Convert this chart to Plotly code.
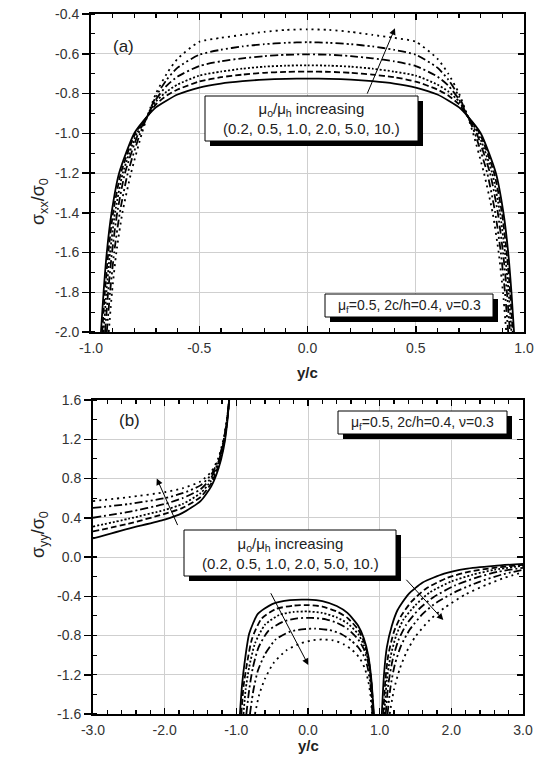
import plotly.graph_objects as go

W, H = 538, 767


def px(x):
    return x / W


def py(y):
    return 1 - y / H


# ---------------- data: panel (a) sigma_xx / sigma_0 vs y/c ----------------
mu_ratio = ["0.2", "0.5", "1.0", "2.0", "5.0", "10."]

a_x_02 = [-0.954, -0.942, -0.927, -0.905, -0.87, -0.80, -0.74, -0.7, -0.65, -0.6, -0.5, -0.4, -0.3, -0.2, -0.1, 0.0,
          0.1, 0.2, 0.3, 0.4, 0.5, 0.6, 0.65, 0.7, 0.74, 0.80, 0.87, 0.905, 0.927, 0.942, 0.954]
a_y_02 = [-2.0, -1.8, -1.6, -1.4, -1.2, -1.0, -0.915, -0.87, -0.835, -0.805, -0.77, -0.75, -0.738, -0.73, -0.726, -0.725,
          -0.726, -0.73, -0.738, -0.75, -0.77, -0.805, -0.835, -0.87, -0.915, -1.0, -1.2, -1.4, -1.6, -1.8, -2.0]

a_x_05 = [-0.948, -0.936, -0.92, -0.898, -0.862, -0.795, -0.74, -0.7, -0.65, -0.6, -0.5, -0.4, -0.3, -0.2, -0.1, 0.0,
          0.1, 0.2, 0.3, 0.4, 0.5, 0.6, 0.65, 0.7, 0.74, 0.795, 0.862, 0.898, 0.92, 0.936, 0.948]
a_y_05 = [-2.0, -1.8, -1.6, -1.4, -1.2, -1.0, -0.915, -0.855, -0.81, -0.78, -0.74, -0.718, -0.705, -0.696, -0.691, -0.69,
          -0.691, -0.696, -0.705, -0.718, -0.74, -0.78, -0.81, -0.855, -0.915, -1.0, -1.2, -1.4, -1.6, -1.8, -2.0]

a_x_10 = [-0.942, -0.929, -0.912, -0.889, -0.853, -0.788, -0.74, -0.7, -0.65, -0.6, -0.5, -0.4, -0.3, -0.2, -0.1, 0.0,
          0.1, 0.2, 0.3, 0.4, 0.5, 0.6, 0.65, 0.7, 0.74, 0.788, 0.853, 0.889, 0.912, 0.929, 0.942]
a_y_10 = [-2.0, -1.8, -1.6, -1.4, -1.2, -1.0, -0.915, -0.84, -0.79, -0.755, -0.71, -0.69, -0.675, -0.665, -0.66, -0.658,
          -0.66, -0.665, -0.675, -0.69, -0.71, -0.755, -0.79, -0.84, -0.915, -1.0, -1.2, -1.4, -1.6, -1.8, -2.0]

a_x_20 = [-0.935, -0.921, -0.903, -0.879, -0.843, -0.781, -0.74, -0.7, -0.65, -0.6, -0.5, -0.4, -0.3, -0.2, -0.1, 0.0,
          0.1, 0.2, 0.3, 0.4, 0.5, 0.6, 0.65, 0.7, 0.74, 0.781, 0.843, 0.879, 0.903, 0.921, 0.935]
a_y_20 = [-2.0, -1.8, -1.6, -1.4, -1.2, -1.0, -0.915, -0.83, -0.76, -0.715, -0.662, -0.638, -0.623, -0.612, -0.605, -0.603,
          -0.605, -0.612, -0.623, -0.638, -0.662, -0.715, -0.76, -0.83, -0.915, -1.0, -1.2, -1.4, -1.6, -1.8, -2.0]

a_x_50 = [-0.927, -0.912, -0.893, -0.867, -0.83, -0.773, -0.74, -0.7, -0.65, -0.6, -0.5, -0.4, -0.3, -0.2, -0.1, 0.0,
          0.1, 0.2, 0.3, 0.4, 0.5, 0.6, 0.65, 0.7, 0.74, 0.773, 0.83, 0.867, 0.893, 0.912, 0.927]
a_y_50 = [-2.0, -1.8, -1.6, -1.4, -1.2, -1.0, -0.915, -0.815, -0.73, -0.67, -0.605, -0.58, -0.563, -0.552, -0.545, -0.542,
          -0.545, -0.552, -0.563, -0.58, -0.605, -0.67, -0.73, -0.815, -0.915, -1.0, -1.2, -1.4, -1.6, -1.8, -2.0]

a_x_100 = [-0.918, -0.903, -0.883, -0.855, -0.815, -0.765, -0.74, -0.7, -0.65, -0.6, -0.5, -0.4, -0.3, -0.2, -0.1, 0.0,
           0.1, 0.2, 0.3, 0.4, 0.5, 0.6, 0.65, 0.7, 0.74, 0.765, 0.815, 0.855, 0.883, 0.903, 0.918]
a_y_100 = [-2.0, -1.8, -1.6, -1.4, -1.2, -1.0, -0.915, -0.80, -0.70, -0.625, -0.54, -0.52, -0.505, -0.49, -0.48, -0.477,
           -0.48, -0.49, -0.505, -0.52, -0.54, -0.625, -0.70, -0.80, -0.915, -1.0, -1.2, -1.4, -1.6, -1.8, -2.0]

# ---------------- data: panel (b) sigma_yy / sigma_0 vs y/c ----------------
# three branches per curve separated by None
b_x_02 = [-3.0, -2.5, -2.0, -1.75, -1.5, -1.35, -1.25, -1.18, -1.13, -1.1, None,
          -0.95, -0.92, -0.88, -0.82, -0.7, -0.5, -0.25, 0.0, 0.2, 0.4, 0.55, 0.7, 0.78, 0.84, 0.88, 0.92, None,
          1.03, 1.06, 1.1, 1.17, 1.25, 1.4, 1.6, 1.9, 2.2, 2.6, 3.0]
b_y_02 = [0.19, 0.29, 0.38, 0.45, 0.57, 0.72, 0.9, 1.1, 1.35, 1.6, None,
          -1.6, -1.3, -1.05, -0.78, -0.58, -0.48, -0.44, -0.435, -0.45, -0.5, -0.57, -0.7, -0.83, -1.0, -1.22, -1.6, None,
          -1.6, -1.2, -0.92, -0.7, -0.54, -0.38, -0.26, -0.17, -0.12, -0.09, -0.07]

b_x_05 = [-3.0, -2.5, -2.0, -1.75, -1.5, -1.35, -1.25, -1.18, -1.13, -1.1, None,
          -0.93, -0.9, -0.85, -0.78, -0.65, -0.45, -0.2, 0.0, 0.2, 0.4, 0.55, 0.7, 0.78, 0.84, 0.88, 0.915, None,
          1.05, 1.08, 1.12, 1.2, 1.3, 1.45, 1.65, 1.95, 2.25, 2.6, 3.0]
b_y_05 = [0.26, 0.34, 0.44, 0.50, 0.61, 0.75, 0.93, 1.12, 1.37, 1.6, None,
          -1.6, -1.32, -1.08, -0.83, -0.63, -0.53, -0.495, -0.49, -0.505, -0.555, -0.62, -0.74, -0.86, -1.02, -1.24, -1.6, None,
          -1.6, -1.25, -1.0, -0.76, -0.6, -0.45, -0.32, -0.21, -0.15, -0.11, -0.08]

b_x_10 = [-3.0, -2.5, -2.0, -1.75, -1.5, -1.35, -1.25, -1.18, -1.13, -1.1, None,
          -0.9, -0.87, -0.82, -0.74, -0.6, -0.4, -0.2, 0.0, 0.2, 0.4, 0.55, 0.7, 0.78, 0.84, 0.88, 0.91, None,
          1.065, 1.1, 1.15, 1.23, 1.33, 1.5, 1.7, 2.0, 2.3, 2.6, 3.0]
b_y_10 = [0.31, 0.39, 0.48, 0.54, 0.65, 0.78, 0.95, 1.14, 1.38, 1.6, None,
          -1.6, -1.35, -1.12, -0.88, -0.69, -0.59, -0.56, -0.555, -0.57, -0.615, -0.675, -0.785, -0.9, -1.05, -1.26, -1.6, None,
          -1.6, -1.25, -1.02, -0.8, -0.64, -0.49, -0.36, -0.25, -0.18, -0.13, -0.09]

b_x_20 = [-3.0, -2.5, -2.0, -1.75, -1.5, -1.35, -1.25, -1.18, -1.13, -1.1, None,
          -0.86, -0.82, -0.77, -0.69, -0.55, -0.35, -0.15, 0.05, 0.25, 0.4, 0.55, 0.7, 0.78, 0.84, 0.88, 0.905, None,
          1.085, 1.12, 1.18, 1.26, 1.37, 1.55, 1.75, 2.05, 2.35, 2.65, 3.0]
b_y_20 = [0.40, 0.46, 0.54, 0.60, 0.69, 0.81, 0.97, 1.16, 1.39, 1.6, None,
          -1.6, -1.35, -1.13, -0.92, -0.75, -0.66, -0.625, -0.62, -0.635, -0.67, -0.73, -0.84, -0.94, -1.08, -1.28, -1.6, None,
          -1.6, -1.3, -1.05, -0.85, -0.69, -0.53, -0.41, -0.29, -0.21, -0.15, -0.11]

b_x_50 = [-3.0, -2.5, -2.0, -1.75, -1.5, -1.35, -1.25, -1.18, -1.13, -1.1, None,
          -0.81, -0.76, -0.7, -0.6, -0.45, -0.25, -0.05, 0.1, 0.3, 0.45, 0.6, 0.7, 0.78, 0.83, 0.87, 0.9, None,
          1.11, 1.15, 1.21, 1.3, 1.42, 1.6, 1.8, 2.1, 2.4, 2.7, 3.0]
b_y_50 = [0.50, 0.54, 0.60, 0.65, 0.73, 0.84, 0.99, 1.18, 1.40, 1.6, None,
          -1.6, -1.35, -1.16, -0.99, -0.84, -0.76, -0.735, -0.73, -0.745, -0.78, -0.85, -0.92, -1.01, -1.12, -1.3, -1.6, None,
          -1.6, -1.33, -1.1, -0.9, -0.74, -0.58, -0.46, -0.34, -0.25, -0.18, -0.13]

b_x_100 = [-3.0, -2.5, -2.0, -1.75, -1.5, -1.35, -1.25, -1.18, -1.13, -1.1, None,
           -0.74, -0.68, -0.6, -0.48, -0.3, -0.1, 0.05, 0.2, 0.35, 0.5, 0.62, 0.72, 0.79, 0.84, 0.87, 0.895, None,
           1.14, 1.2, 1.28, 1.38, 1.5, 1.7, 1.9, 2.2, 2.5, 2.75, 3.0]
b_y_100 = [0.57, 0.61, 0.66, 0.70, 0.77, 0.87, 1.01, 1.2, 1.41, 1.6, None,
           -1.6, -1.4, -1.24, -1.08, -0.95, -0.88, -0.85, -0.84, -0.85, -0.89, -0.95, -1.03, -1.13, -1.26, -1.4, -1.6, None,
           -1.6, -1.35, -1.14, -0.96, -0.81, -0.64, -0.52, -0.38, -0.28, -0.21, -0.155]

# ---------------- tick labels ----------------
a_xtick_vals = [-1.0, -0.5, 0.0, 0.5, 1.0]
a_xtick_text = ["-1.0", "-0.5", "0.0", "0.5", "1.0"]
a_ytick_vals = [-2.0, -1.8, -1.6, -1.4, -1.2, -1.0, -0.8, -0.6, -0.4]
a_ytick_text = ["-2.0", "-1.8", "-1.6", "-1.4", "-1.2", "-1.0", "-0.8", "-0.6", "-0.4"]
b_xtick_vals = [-3.0, -2.0, -1.0, 0.0, 1.0, 2.0, 3.0]
b_xtick_text = ["-3.0", "-2.0", "-1.0", "0.0", "1.0", "2.0", "3.0"]
b_ytick_vals = [-1.6, -1.2, -0.8, -0.4, 0.0, 0.4, 0.8, 1.2, 1.6]
b_ytick_text = ["-1.6", "-1.2", "-0.8", "-0.4", "0.0", "0.4", "0.8", "1.2", "1.6"]

# ---------------- styles ----------------
dashes = ["solid", "6px,3px", "2px,2px", "8px,3px,2px,3px", "8px,3px,2px,3px,2px,3px", "2px,4px"]
a_series = [(a_x_02, a_y_02), (a_x_05, a_y_05), (a_x_10, a_y_10), (a_x_20, a_y_20), (a_x_50, a_y_50), (a_x_100, a_y_100)]
b_series = [(b_x_02, b_y_02), (b_x_05, b_y_05), (b_x_10, b_y_10), (b_x_20, b_y_20), (b_x_50, b_y_50), (b_x_100, b_y_100)]

FONT = "Arial, Liberation Sans, sans-serif"

fig = go.Figure()
for (xs, ys), d, name in zip(a_series, dashes, mu_ratio):
    fig.add_trace(go.Scatter(x=xs, y=ys, mode="lines", name=name, xaxis="x", yaxis="y",
                             line=dict(color="black", width=1.8, dash=d, shape="spline", smoothing=0.6),
                             hoverinfo="skip"))
for (xs, ys), d, name in zip(b_series, dashes, mu_ratio):
    fig.add_trace(go.Scatter(x=xs, y=ys, mode="lines", name=name, xaxis="x2", yaxis="y2",
                             line=dict(color="black", width=1.8, dash=d, shape="spline", smoothing=0.6),
                             connectgaps=False, hoverinfo="skip"))
# empty traces to register the right-hand overlay axes
fig.add_trace(go.Scatter(x=[], y=[], xaxis="x", yaxis="y3", showlegend=False))
fig.add_trace(go.Scatter(x=[], y=[], xaxis="x2", yaxis="y4", showlegend=False))

tickfont = dict(family=FONT, size=14, color="#333333")


def xax(domain, anchor, rng, vals, text, minor_dt):
    return dict(domain=domain, anchor=anchor, range=rng, tickmode="array", tickvals=vals, ticktext=text,
                ticks="inside", ticklen=6, tickwidth=1.5, tickcolor="black", mirror="ticks",
                showline=True, linecolor="black", linewidth=2, showgrid=True, gridcolor="#cfcfcf", gridwidth=1,
                zeroline=False, tickfont=tickfont, ticklabelstandoff=2, automargin=False,
                minor=dict(tickmode="linear", tick0=0, dtick=minor_dt, ticks="inside", ticklen=4,
                           tickwidth=1.2, tickcolor="black", showgrid=False))


def yax(domain, anchor, rng, vals, text, minor_dt):
    return dict(domain=domain, anchor=anchor, range=rng, tickmode="array", tickvals=vals, ticktext=text,
                ticks="outside", ticklen=7, tickwidth=1.5, tickcolor="black", mirror=False,
                showline=True, linecolor="black", linewidth=2, showgrid=True, gridcolor="#cfcfcf", gridwidth=1,
                zeroline=False, tickfont=tickfont, ticklabelstandoff=0, automargin=False,
                minor=dict(tickmode="linear", tick0=0, dtick=minor_dt, ticks="inside", ticklen=4,
                           tickwidth=1.2, tickcolor="black", showgrid=False))


def yright(overlay, anchor, rng, vals, minor_dt):
    return dict(overlaying=overlay, side="right", anchor=anchor, range=rng, tickmode="array", tickvals=vals,
                showticklabels=False, ticks="inside", ticklen=6, tickwidth=1.5, tickcolor="black",
                showline=True, linecolor="black", linewidth=2, showgrid=False, zeroline=False, automargin=False,
                minor=dict(tickmode="linear", tick0=0, dtick=minor_dt, ticks="inside", ticklen=4,
                           tickwidth=1.2, tickcolor="black", showgrid=False))


fig.update_layout(
    width=W, height=H, margin=dict(l=0, r=0, t=0, b=0, autoexpand=False), showlegend=False,
    paper_bgcolor="white", plot_bgcolor="white",
    xaxis=xax([px(91), px(524)], "y", [-1, 1], a_xtick_vals, a_xtick_text, 0.1),
    yaxis=yax([py(332), py(14)], "x", [-2.0, -0.4], a_ytick_vals, a_ytick_text, 0.1),
    yaxis3=yright("y", "x", [-2.0, -0.4], a_ytick_vals, 0.1),
    xaxis2=xax([px(93), px(523)], "y2", [-3, 3], b_xtick_vals, b_xtick_text, 0.2),
    yaxis2=yax([py(714), py(400)], "x2", [-1.6, 1.6], b_ytick_vals, b_ytick_text, 0.2),
    yaxis4=yright("y2", "x2", [-1.6, 1.6], b_ytick_vals, 0.2),
)

shapes = []
annotations = []


def boxed(x0, y0, x1, y1, text, size):
    # black drop shadow then white framed box (pixel coordinates)
    shapes.append(dict(type="rect", xref="paper", yref="paper", x0=px(x0 + 5), x1=px(x1 + 5),
                       y0=py(y0 + 5), y1=py(y1 + 5), fillcolor="black", line=dict(width=0), layer="above"))
    shapes.append(dict(type="rect", xref="paper", yref="paper", x0=px(x0), x1=px(x1),
                       y0=py(y0), y1=py(y1), fillcolor="white", line=dict(color="black", width=1), layer="above"))
    annotations.append(dict(xref="paper", yref="paper", x=px((x0 + x1) / 2), y=py((y0 + y1) / 2),
                            text=text, showarrow=False, xanchor="center", yanchor="middle", align="center",
                            font=dict(family=FONT, size=size, color="#222222")))


boxed(205, 96, 418, 141, "μ<sub>o</sub>/μ<sub>h</sub> increasing<br>(0.2, 0.5, 1.0, 2.0, 5.0, 10.)", 15)
boxed(325, 294, 493, 317, "μ<sub>f</sub>=0.5, 2c/h=0.4, ν=0.3", 14)
boxed(338, 411, 507, 434, "μ<sub>f</sub>=0.5, 2c/h=0.4, ν=0.3", 14)
boxed(184, 530, 396, 576, "μ<sub>o</sub>/μ<sub>h</sub> increasing<br>(0.2, 0.5, 1.0, 2.0, 5.0, 10.)", 15)

# arrows (tail -> head) in data coordinates
arrows = [("x", "y", 0.273, -0.808, 0.404, -0.472),
          ("x2", "y2", -1.81, 0.31, -2.11, 0.80),
          ("x2", "y2", -0.53, -0.354, 0.004, -1.10),
          ("x2", "y2", 1.353, -0.217, 1.888, -0.642)]
for xr, yr, ax, ay, hx, hy in arrows:
    annotations.append(dict(xref=xr, yref=yr, axref=xr, ayref=yr, x=hx, y=hy, ax=ax, ay=ay, text="",
                            showarrow=True, arrowhead=2, arrowsize=1.3, arrowwidth=1, arrowcolor="black"))

# panel labels and axis titles
annotations += [
    dict(xref="paper", yref="paper", x=px(111), y=py(35), text="(a)", showarrow=False,
         font=dict(family=FONT, size=17, color="#222222")),
    dict(xref="paper", yref="paper", x=px(117), y=py(420), text="(b)", showarrow=False,
         font=dict(family=FONT, size=17, color="#222222")),
    dict(xref="paper", yref="paper", x=px(307), y=py(373), text="<b>y/c</b>", showarrow=False,
         font=dict(family=FONT, size=15, color="#222222")),
    dict(xref="paper", yref="paper", x=px(308), y=py(756), text="<b>y/c</b>", showarrow=False,
         font=dict(family=FONT, size=15, color="#222222")),
    dict(xref="paper", yref="paper", x=px(26), y=py(176), text="σ<sub>xx</sub>/σ<sub>0</sub>", showarrow=False,
         textangle=-90, font=dict(family=FONT, size=18, color="#222222")),
    dict(xref="paper", yref="paper", x=px(26), y=py(560), text="σ<sub>yy</sub>/σ<sub>0</sub>", showarrow=False,
         textangle=-90, font=dict(family=FONT, size=18, color="#222222")),
]

fig.update_layout(shapes=shapes, annotations=annotations)
fig.write_html("out.html", config={"displayModeBar": False, "staticPlot": True},
               post_script="document.body.style.margin='0';")
